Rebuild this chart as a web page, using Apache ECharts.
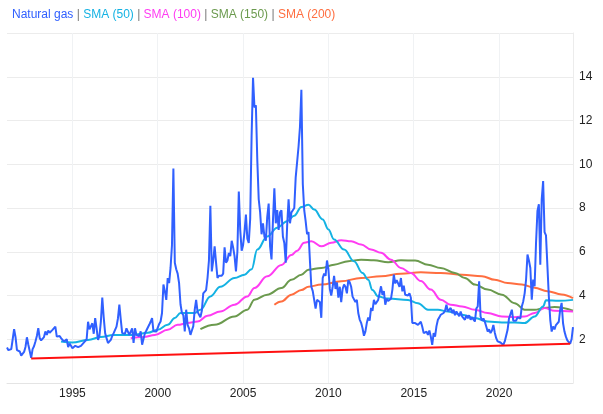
<!DOCTYPE html>
<html lang="en">
<head>
    <meta charset="UTF-8">
    <title>Natural gas</title>
    <script src="https://cdn.jsdelivr.net/npm/echarts@6/dist/echarts.min.js"></script>
    <style>
        * {
            margin: 0;
            padding: 0
        }

        html, body {
            width: 100%;
            height: 100%;
            background: #fff;
        }

        #main {
            width: 603px;
            height: 414px;
        }
    </style>
</head>
<body>
<div id="main"></div>
<script type="text/javascript">
    // monthly prices, first value is 1991-03
    var startYear = 1991, startMonth = 3;
    var gasPrice = [
        1.62, 1.50, 1.48, 1.55, 2.00, 2.46, 2.10, 1.50, 1.46, 1.44,                 // 1991
        1.25, 1.21, 1.42, 1.65, 2.09, 1.75, 1.45, 1.15, 1.55, 1.68, 1.90, 2.15,     // 1992
        2.51, 2.05, 1.95, 1.90, 2.10, 2.36, 2.20, 2.40, 2.30, 2.35, 2.43, 2.40,     // 1993
        2.58, 2.12, 2.20, 2.15, 2.05, 2.05, 1.90, 1.95, 2.00, 1.64, 1.80, 1.70,     // 1994
        1.59, 1.62, 1.70, 1.68, 1.64, 1.66, 1.70, 1.78, 1.85, 1.92, 2.00, 2.80,     // 1995
        2.45, 2.40, 2.73, 2.25, 2.97, 2.50, 1.97, 2.15, 2.80, 3.91, 3.00, 2.28,     // 1996
        2.05, 1.83, 1.90, 1.97, 2.15, 2.28, 2.35, 2.58, 2.95, 3.58, 2.90, 2.28,     // 1997
        2.28, 2.25, 2.50, 2.35, 2.20, 2.12, 2.50, 1.83, 2.50, 2.20, 2.12, 2.15,     // 1998
        2.36, 1.75, 1.70, 2.28, 2.40, 2.35, 2.66, 2.80, 2.97, 2.36, 2.40, 2.35,     // 1999
        2.43, 2.70, 2.81, 3.20, 4.50, 4.20, 3.80, 4.80, 4.57, 5.26, 6.30, 9.80,     // 2000
        5.50, 5.20, 5.00, 4.57, 3.60, 3.20, 3.10, 2.36, 3.35, 2.66, 2.50, 2.20,     // 2001
        2.40, 2.60, 3.35, 3.80, 3.25, 3.30, 3.00, 3.30, 4.10, 4.15, 4.25, 4.80,     // 2002
        5.60, 8.10, 5.10, 5.60, 6.25, 5.50, 4.80, 4.90, 4.95, 4.90, 5.00, 6.20,     // 2003
        5.50, 5.60, 5.95, 5.80, 6.50, 6.20, 5.80, 5.10, 6.00, 8.75, 7.00, 6.05,     // 2004
        6.30, 6.90, 7.70, 6.60, 6.40, 7.50, 11.30, 13.95, 12.60, 12.70, 10.20, 8.40, // 2005
        7.80, 6.80, 7.30, 6.70, 6.50, 7.60, 8.20, 6.25, 5.65, 7.40, 8.90, 7.30,     // 2006
        7.90, 7.00, 7.80, 7.90, 6.70, 6.40, 5.50, 7.20, 8.40, 7.30, 7.80, 7.90,     // 2007
        8.00, 9.40, 10.10, 10.80, 11.70, 13.40, 9.10, 7.90, 7.40, 6.80, 6.90, 5.60, // 2008
        4.40, 4.20, 3.80, 3.40, 3.80, 3.85, 3.70, 2.98, 4.80, 5.00, 4.90, 5.60,     // 2009
        5.20, 4.30, 4.00, 4.40, 4.90, 4.30, 4.60, 3.90, 4.40, 3.70, 4.30, 4.50,     // 2010
        4.40, 4.10, 4.70, 4.60, 4.40, 3.95, 4.00, 3.70, 3.80, 3.20, 2.90, 2.75,     // 2011
        2.50, 2.16, 2.35, 2.74, 3.00, 2.85, 3.43, 3.30, 3.80, 3.60, 3.55, 3.80,     // 2012
        4.10, 4.42, 4.03, 4.20, 3.58, 3.85, 3.75, 3.70, 3.85, 4.27, 4.95, 4.55,     // 2013
        4.70, 4.55, 4.40, 4.80, 4.19, 4.45, 4.03, 4.10, 4.00, 4.10, 3.90, 2.74,     // 2014
        2.66, 2.74, 2.80, 2.66, 2.75, 2.80, 2.57, 2.28, 2.35, 2.35, 2.20, 2.40,     // 2015
        2.12, 1.74, 2.28, 2.12, 2.60, 2.89, 3.00, 3.12, 3.05, 3.20, 3.30, 3.58,     // 2016
        3.27, 3.20, 3.43, 3.20, 3.35, 3.10, 3.27, 3.20, 3.05, 3.27, 3.05, 3.10,     // 2017
        2.89, 3.10, 2.95, 3.10, 2.89, 3.00, 2.95, 2.81, 3.40, 3.50, 4.65, 3.04,     // 2018
        2.85, 2.95, 2.80, 2.58, 2.35, 2.45, 2.28, 2.40, 2.65, 2.30, 2.05, 1.90,     // 2019
        1.90, 1.85, 1.82, 1.74, 1.90, 1.82, 2.43, 2.95, 3.00, 3.35, 2.85, 2.81,     // 2020
        2.85, 3.00, 2.95, 2.95, 3.50, 3.73, 4.10, 4.73, 5.87, 5.60, 5.26, 3.81,     // 2021
        4.73, 4.42, 6.40, 7.86, 8.17, 5.41, 8.40, 9.23, 6.90, 6.75, 6.70, 3.96,     // 2022
        2.89, 2.35, 2.58, 2.45, 2.65, 2.65, 2.80, 3.35, 3.66, 2.73, 2.35, 2.12,     // 2023
        1.95, 1.90, 1.80, 2.00, 2.55                                                // 2024
    ];

    // moving averages at a few months
    var sma50 = [
        ['1994-05', 1.90], ['1995-01', 1.85], ['1995-12', 1.97], ['1996-09', 2.10], ['1997-06', 2.20],
        ['1998-08', 2.20], ['1999-06', 2.30], ['2000-01', 2.43], ['2000-08', 2.66], ['2001-01', 2.97],
        ['2001-05', 3.20], ['2002-03', 3.20], ['2002-07', 3.35], ['2003-02', 3.96], ['2003-09', 4.40],
        ['2004-07', 4.80], ['2005-02', 4.95], ['2005-07', 5.20], ['2005-11', 6.10], ['2006-06', 6.70],
        ['2007-01', 7.10], ['2007-08', 7.40], ['2008-01', 7.65], ['2008-06', 8.05], ['2008-11', 8.15],
        ['2009-03', 7.93], ['2009-09', 7.48], ['2010-01', 7.02], ['2010-05', 6.56], ['2010-12', 6.10],
        ['2011-07', 5.57], ['2012-01', 5.03], ['2012-05', 4.72], ['2012-08', 4.25], ['2012-12', 3.95],
        ['2013-07', 3.86], ['2014-09', 3.80], ['2015-04', 3.65], ['2015-11', 3.35], ['2016-06', 3.35],
        ['2017-01', 3.27], ['2017-11', 3.12], ['2018-08', 2.97], ['2019-05', 2.81], ['2020-03', 2.77],
        ['2020-12', 2.77], ['2021-07', 2.74], ['2022-02', 3.04], ['2022-08', 3.50], ['2022-10', 3.78],
        ['2023-07', 3.76], ['2024-05', 3.80]
    ];
    var sma100 = [
        ['1998-06', 2.05], ['1999-03', 2.10], ['1999-11', 2.20], ['2000-08', 2.43], ['2001-03', 2.66],
        ['2001-10', 2.74], ['2002-05', 2.81], ['2002-12', 3.07], ['2003-09', 3.27], ['2004-07', 3.58],
        ['2005-04', 3.96], ['2005-09', 4.34], ['2006-06', 4.88], ['2007-04', 5.40], ['2007-11', 5.85],
        ['2008-03', 6.05], ['2008-08', 6.41], ['2009-01', 6.48], ['2009-08', 6.25], ['2010-03', 6.41],
        ['2010-10', 6.53], ['2011-05', 6.48], ['2011-12', 6.33], ['2012-07', 6.10], ['2013-02', 5.95],
        ['2013-09', 5.64], ['2014-04', 5.26], ['2014-11', 5.03], ['2015-06', 4.66], ['2016-01', 4.27],
        ['2016-08', 3.81], ['2017-03', 3.58], ['2017-11', 3.50], ['2018-08', 3.35], ['2019-05', 3.20],
        ['2020-03', 3.04], ['2020-12', 3.01], ['2021-07', 3.04], ['2022-02', 3.20], ['2022-09', 3.43],
        ['2023-04', 3.30], ['2024-05', 3.27]
    ];
    var sma150 = [
        ['2002-07', 2.46], ['2003-05', 2.66], ['2004-07', 3.04], ['2005-04', 3.35], ['2005-09', 3.81],
        ['2006-06', 4.04], ['2007-04', 4.34], ['2007-11', 4.72], ['2008-06', 4.95], ['2008-11', 5.18],
        ['2009-08', 5.26], ['2010-05', 5.41], ['2011-03', 5.57], ['2011-12', 5.64], ['2012-09', 5.61],
        ['2013-07', 5.52], ['2014-04', 5.61], ['2015-02', 5.60], ['2015-11', 5.41], ['2016-08', 5.26],
        ['2017-06', 5.03], ['2018-01', 4.80], ['2018-08', 4.50], ['2019-05', 4.27], ['2020-03', 4.04],
        ['2020-12', 3.65], ['2021-07', 3.35], ['2022-02', 3.35], ['2022-09', 3.43], ['2023-04', 3.47],
        ['2024-05', 3.31]
    ];
    var sma200 = [
        ['2006-11', 3.58], ['2007-04', 3.73], ['2007-11', 4.04], ['2008-06', 4.25], ['2008-11', 4.40],
        ['2009-08', 4.50], ['2010-10', 4.65], ['2011-12', 4.80], ['2013-02', 4.88], ['2014-04', 5.00],
        ['2015-06', 5.06], ['2016-08', 5.03], ['2017-11', 4.95], ['2019-01', 4.88], ['2019-10', 4.72],
        ['2020-07', 4.57], ['2021-05', 4.50], ['2022-02', 4.35], ['2022-11', 4.20], ['2023-09', 4.05],
        ['2024-05', 3.88]
    ];
    // support line
    var trendLine = [['1992-08', 1.12], ['2024-03', 1.79]];

    var colors = {
        gas: '#3060ff',
        sma50: '#14b2e3',
        sma100: '#ff3cf2',
        sma150: '#6b9a4e',
        sma200: '#ff6e40',
        trend: '#ff1010'
    };

    // month labels for the category axis
    var months = [];
    for (var i = 0; i < gasPrice.length; i++) {
        var m = startMonth - 1 + i;
        months.push((startYear + Math.floor(m / 12)) + '-' + ('0' + (m % 12 + 1)).slice(-2));
    }

    function isTickMonth(index, value) {
        return value.slice(5) === '01' && Number(value.slice(0, 4)) % 5 === 0;
    }

    var font = '"Liberation Sans", Arial, sans-serif';

    function smaSeries(name, data, color) {
        return {
            name: name,
            type: 'line',
            data: data,
            showSymbol: false,
            smooth: 0.4,
            smoothMonotone: 'x',
            lineStyle: {color: color, width: 2},
            itemStyle: {color: color}
        };
    }

    var myChart = echarts.init(document.getElementById('main'));

    var option = {
        animation: false,
        backgroundColor: '#fff',
        title: {
            text: '{a|Natural gas} {s||} {b|SMA (50)} {s||} {c|SMA (100)} {s||} {d|SMA (150)} {s||} {e|SMA (200)}',
            left: 12,
            top: 9,
            padding: 0,
            textStyle: {
                fontFamily: font,
                fontSize: 12,
                fontWeight: 'normal',
                rich: {
                    a: {color: colors.gas, fontSize: 12, fontFamily: font},
                    b: {color: colors.sma50, fontSize: 12, fontFamily: font},
                    c: {color: colors.sma100, fontSize: 12, fontFamily: font},
                    d: {color: colors.sma150, fontSize: 12, fontFamily: font},
                    e: {color: colors.sma200, fontSize: 12, fontFamily: font},
                    s: {color: '#787878', fontSize: 12, fontFamily: font}
                }
            }
        },
        grid: {
            left: 7,
            right: 30,
            top: 33,
            bottom: 31
        },
        xAxis: {
            type: 'category',
            data: months,
            boundaryGap: false,
            axisLine: {lineStyle: {color: '#e4e4e4'}},
            axisTick: {show: false},
            axisLabel: {
                interval: isTickMonth,
                formatter: function (v) {
                    return v.slice(0, 4);
                },
                color: '#222',
                fontFamily: font,
                fontSize: 12,
                margin: 5
            },
            splitLine: {
                show: true,
                interval: isTickMonth,
                lineStyle: {color: '#f0f2f4'}
            }
        },
        yAxis: {
            type: 'value',
            position: 'right',
            min: 0,
            max: 16,
            interval: 2,
            axisLine: {show: true, lineStyle: {color: '#ececec'}},
            axisTick: {show: false},
            axisLabel: {
                color: '#222',
                fontFamily: font,
                fontSize: 12,
                margin: 6,
                formatter: function (v) {
                    return (v === 0 || v === 16) ? '' : String(v);
                }
            },
            splitLine: {lineStyle: {color: '#ececec'}}
        },
        series: [
            smaSeries('SMA (200)', sma200, colors.sma200),
            smaSeries('SMA (150)', sma150, colors.sma150),
            smaSeries('SMA (100)', sma100, colors.sma100),
            smaSeries('SMA (50)', sma50, colors.sma50),
            {
                name: 'Natural gas',
                type: 'line',
                data: gasPrice,
                showSymbol: false,
                lineStyle: {color: colors.gas, width: 2},
                itemStyle: {color: colors.gas}
            },
            {
                name: 'Trend',
                type: 'line',
                data: trendLine,
                showSymbol: false,
                lineStyle: {color: colors.trend, width: 2},
                itemStyle: {color: colors.trend}
            }
        ]
    };

    myChart.setOption(option);
</script>
</body>
</html>
